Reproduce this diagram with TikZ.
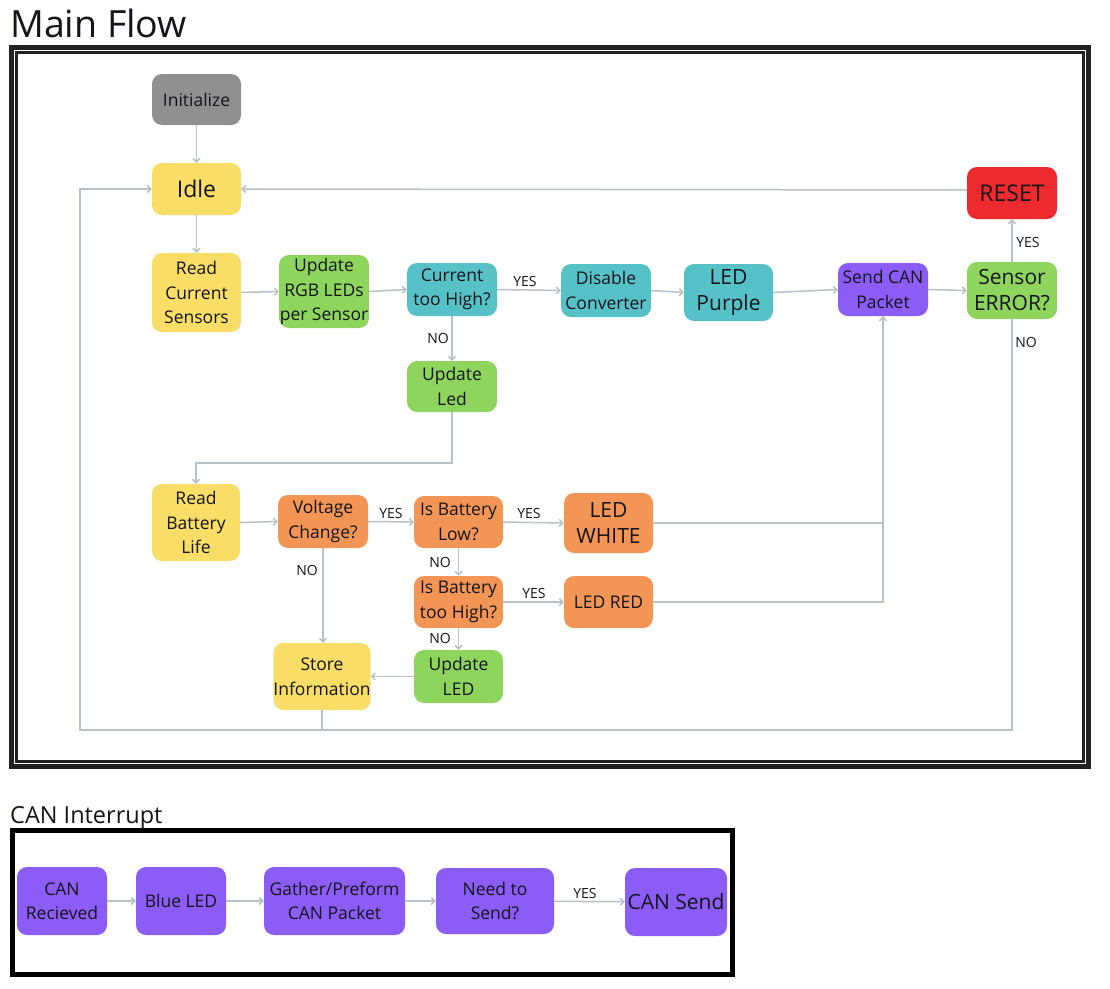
\documentclass[tikz,border=0pt]{standalone}
\usepackage{fontspec}
\setmainfont{Open Sans}
\usetikzlibrary{arrows.meta}
\definecolor{grayc}{HTML}{909090}
\definecolor{yellowc}{HTML}{F8DD67}
\definecolor{greenc}{HTML}{8ED55E}
\definecolor{tealc}{HTML}{56C2C8}
\definecolor{purplec}{HTML}{8B5CF6}
\definecolor{orangec}{HTML}{F29555}
\definecolor{redc}{HTML}{EE2A2E}
\definecolor{linec}{HTML}{B9C1C8}
\definecolor{framec}{HTML}{222222}
\definecolor{textc}{HTML}{15151C}
\tikzset{
  box/.style={rounded corners=10pt, inner sep=0pt, align=center, text=textc,
    font=\fontsize{17.5}{24.5}\selectfont},
  big/.style={font=\fontsize{21}{26}\selectfont},
  huge/.style={font=\fontsize{23}{28}\selectfont},
  conn/.style={draw=linec, line width=1.5pt, -{Straight Barb[length=3.5pt,width=7pt]}},
  plain/.style={draw=linec, line width=1.5pt},
  lbl/.style={font=\fontsize{14}{16}\selectfont, text=textc, inner sep=0pt},
}
\begin{document}
\begin{tikzpicture}[x=1pt,y=-1pt]
\useasboundingbox[fill=white] (0,0) rectangle (1110,988);
% titles
\node[anchor=base west, inner sep=0pt, font=\fontsize{37.5}{40}\selectfont, text=textc] (t1) at (10,37) {Main Flow};
\node[anchor=base west, inner sep=0pt, font=\fontsize{23.5}{26}\selectfont, text=textc] (t2) at (10,823) {CAN Interrupt};
% frames
\draw[framec, line width=4.5pt] (11.5,47.5) rectangle (1088.5,766.5);
\draw[framec, line width=2.5pt] (16.5,52.5) rectangle (1083.5,761.5);
\draw[black, line width=5pt] (12.5,830.5) rectangle (732.5,974.5);
% nodes main
\node[box, fill=grayc, minimum width=89pt, minimum height=51pt] (init) at (196.5,99.5) {Initialize};
\node[box, huge, fill=yellowc, minimum width=89pt, minimum height=52pt] (idle) at (196.5,189) {Idle};
\node[box, fill=yellowc, minimum width=89pt, minimum height=79pt] (rcur) at (196.5,292.5) {Read\\Current\\Sensors};
\node[box, fill=greenc, minimum width=90pt, minimum height=73pt] (rgb) at (324,291.5) {Update\\RGB LEDs\\per Sensor};
\node[box, fill=tealc, minimum width=90pt, minimum height=53pt] (chigh) at (452,289.5) {Current\\too High?};
\node[box, fill=tealc, minimum width=90pt, minimum height=53pt] (dis) at (606,290.5) {Disable\\Converter};
\node[box, big, fill=tealc, minimum width=89pt, minimum height=57pt] (lpur) at (728.5,292.5) {LED\\Purple};
\node[box, fill=purplec, minimum width=90pt, minimum height=53pt] (scan) at (883,289.5) {Send CAN\\Packet};
\node[box, big, fill=greenc, minimum width=90pt, minimum height=57pt] (serr) at (1012,290.5) {Sensor\\ERROR?};
\node[box, huge, fill=redc, minimum width=90pt, minimum height=52pt] (reset) at (1012,193) {RESET};
\node[box, fill=greenc, minimum width=90pt, minimum height=51pt] (upled) at (452,386.5) {Update\\Led};
\node[box, fill=yellowc, minimum width=88pt, minimum height=77pt] (rbat) at (196,522.5) {Read\\Battery\\Life};
\node[box, fill=orangec, minimum width=90pt, minimum height=53pt] (volt) at (323,521.5) {Voltage\\Change?};
\node[box, fill=orangec, minimum width=89pt, minimum height=52pt] (blow) at (458.5,522) {Is Battery\\Low?};
\node[box, big, fill=orangec, minimum width=89pt, minimum height=60pt] (lwhite) at (608.5,523) {LED\\WHITE};
\node[box, fill=orangec, minimum width=89pt, minimum height=52pt] (bhigh) at (458.5,602) {Is Battery\\too High?};
\node[box, fill=orangec, minimum width=89pt, minimum height=52pt] (lred) at (608.5,602) {LED RED};
\node[box, fill=yellowc, minimum width=96pt, minimum height=67pt] (store) at (322,676.5) {Store\\Information};
\node[box, fill=greenc, minimum width=89pt, minimum height=53pt] (upLED) at (458.5,676.5) {Update\\LED};
% nodes CAN
\node[box, fill=purplec, minimum width=90pt, minimum height=68pt] (crec) at (62,901) {CAN\\Recieved};
\node[box, fill=purplec, minimum width=90pt, minimum height=68pt] (bled) at (181,901) {Blue LED};
\node[box, fill=purplec, minimum width=141pt, minimum height=68pt] (gath) at (334.5,901) {Gather/Preform\\CAN Packet};
\node[box, fill=purplec, minimum width=118pt, minimum height=66pt] (need) at (495,901) {Need to\\Send?};
\node[box, big, fill=purplec, minimum width=102pt, minimum height=68pt] (csend) at (676,902) {CAN Send};
% coordinates
\coordinate (bl) at (80,730);
\coordinate (turn) at (196,463);
% connectors main
\draw[conn] (init) -- (idle);
\draw[conn] ([yshift=3pt]reset.west) -- (idle.east);
\draw[conn] (idle) -- (rcur);
\draw[conn] (rcur.east) -- (rgb.west);
\draw[conn] (rgb.east) -- (chigh.west);
\draw[conn] (chigh.east) -- (dis.west);
\draw[conn] (dis.east) -- (lpur.west);
\draw[conn] (lpur.east) -- (scan.west);
\draw[conn] (scan.east) -- (serr.west);
\draw[conn] (serr) -- (reset);
\draw[conn] (serr.south) -- (serr.south |- bl) -- (bl) |- (idle.west);
\draw[plain] (store.south) -- (store.south |- bl);
\draw[conn] (chigh) -- (upled);
\draw[conn] (upled.south) |- (turn) -- (rbat.north);
\draw[conn] (rbat.east) -- (volt.west);
\draw[conn] (volt.east) -- (blow.west);
\draw[conn] (blow.east) -- (lwhite.west);
\draw[plain] (lwhite.east) -- (scan.south |- lwhite.east);
\draw[conn] (lred.east) -| (scan.south);
\draw[conn] (blow) -- (bhigh);
\draw[conn] (bhigh.east) -- (lred.west);
\draw[conn] (bhigh) -- (bhigh |- upLED.north);
\draw[conn] (volt.south) -- (volt.south |- store.north);
\draw[conn] (upLED.west) -- (store.east);
% connectors CAN
\draw[conn] (crec) -- (bled);
\draw[conn] (bled) -- (gath);
\draw[conn] (gath) -- (need);
\draw[conn] (need) -- (csend);
% labels
\node[lbl] (l1) at (525,281) {YES};
\node[lbl] (l2) at (1028,242) {YES};
\node[lbl] (l3) at (438,338) {NO};
\node[lbl] (l4) at (1026,342) {NO};
\node[lbl] (l5) at (391,513) {YES};
\node[lbl] (l6) at (529,513) {YES};
\node[lbl] (l7) at (440,562) {NO};
\node[lbl] (l8) at (534,593) {YES};
\node[lbl] (l9) at (440,638) {NO};
\node[lbl] (l10) at (307,570) {NO};
\node[lbl] (l11) at (585,893) {YES};
\end{tikzpicture}
\end{document}
